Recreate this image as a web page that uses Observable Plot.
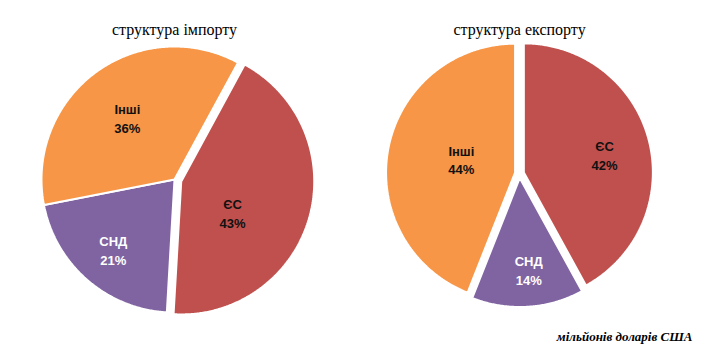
<!DOCTYPE html>
<html>
<head>
<meta charset="utf-8">
<script src="https://cdn.jsdelivr.net/npm/d3@7"></script>
<script src="https://cdn.jsdelivr.net/npm/@observablehq/plot@0.6"></script>
<style>
  html, body { margin: 0; padding: 0; background: #fff; }
  #chart svg { display: block; }
</style>
</head>
<body>
<div id="chart"></div>
<script>
// ---- data ----
const categories = ["ЄС", "СНД", "Інші"];
const importShares = [43, 21, 36];
const exportShares = [42, 14, 44];
const chartTitles = ["структура імпорту", "структура експорту"];
const unitsCaption = "мільйонів доларів США";
const sliceColors = ["#C0504D", "#8064A2", "#F79646"];

// ---- layout (pixel-space of the drawing) ----
const layouts = [
  { name: "import", cx: 174, cy: 179, r: 133, start: 28.5, explode: [7, 0, 0],
    labelR: [0.45, 0.70, 0.585], labelShift: [15, 0, -1], titleY: 29 },
  { name: "export", cx: 519, cy: 173, r: 129, start: 0, explode: [4.5, 4.5, 4.5],
    labelR: [0.64, 0.71, 0.43], labelShift: [2, -2, 3.5], titleY: 29 }
];

const rad = Math.PI / 180;
const polys = [];
const labels = [];
const titles = [];

[importShares, exportShares].forEach((values, ci) => {
  const L = layouts[ci];
  const s0 = L.start * rad;
  const arcs = d3.pie().sort(null).startAngle(s0).endAngle(s0 + 2 * Math.PI)(values);
  arcs.forEach((a, i) => {
    const cat = categories[i];
    const key = L.name + "-" + cat;
    const mid = (a.startAngle + a.endAngle) / 2;
    const ex = L.explode[i];
    const cx = L.cx + ex * Math.sin(mid);
    const cy = L.cy - ex * Math.cos(mid);
    polys.push({ x: cx, y: cy, cat, key });
    const n = Math.max(2, Math.ceil((a.endAngle - a.startAngle) / (0.5 * rad)));
    for (let k = 0; k <= n; k++) {
      const t = a.startAngle + (a.endAngle - a.startAngle) * k / n;
      polys.push({ x: cx + L.r * Math.sin(t), y: cy - L.r * Math.cos(t), cat, key });
    }
    const la = mid + L.labelShift[i] * rad;
    const lr = L.labelR[i] * L.r;
    labels.push({ x: cx + lr * Math.sin(la), y: cy - lr * Math.cos(la), cat,
                  text: cat + "\n" + values[i] + "%" });
  });
  titles.push({ x: L.cx, y: L.titleY, text: chartTitles[ci] });
});

const labelFont = "'Liberation Sans Narrow', 'Arial Narrow', 'Liberation Sans', Arial, sans-serif";
const serif = "'Liberation Serif', 'Times New Roman', serif";

const plot = Plot.plot({
  width: 705,
  height: 351,
  margin: 0,
  x: { domain: [0, 705], range: [0, 705], axis: null },
  y: { domain: [0, 351], range: [0, 351], axis: null },
  color: { domain: categories, range: sliceColors },
  style: { background: "#fff" },
  marks: [
    Plot.line(polys, { x: "x", y: "y", z: "key", fill: "cat", stroke: "white",
                       strokeWidth: 2, curve: "linear-closed", strokeLinejoin: "miter" }),
    Plot.text(labels.filter(d => d.cat !== "СНД"), { x: "x", y: "y", text: "text",
      fill: "#111", fontSize: 13, fontWeight: "bold", fontFamily: labelFont, lineHeight: 1.45 }),
    Plot.text(labels.filter(d => d.cat === "СНД"), { x: "x", y: "y", text: "text",
      fill: "white", fontSize: 13, fontWeight: "bold", fontFamily: labelFont, lineHeight: 1.45 }),
    Plot.text(titles, { x: "x", y: "y", text: "text", fill: "black", fontSize: 16,
      fontFamily: serif }),
    Plot.text([unitsCaption], { x: 692, y: 336, text: d => d, textAnchor: "end",
      fill: "black", fontSize: 13, fontWeight: "bold", fontStyle: "italic", fontFamily: serif })
  ]
});
document.getElementById("chart").appendChild(plot);
</script>
</body>
</html>
